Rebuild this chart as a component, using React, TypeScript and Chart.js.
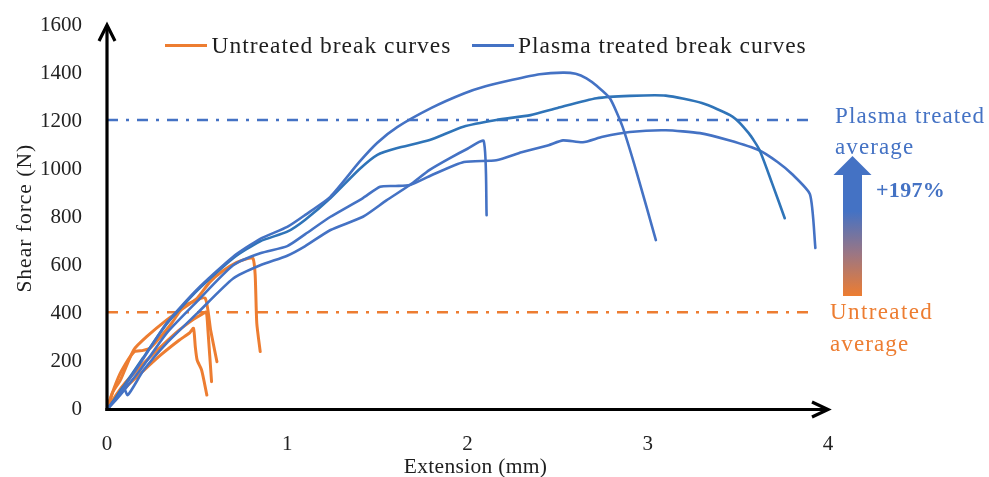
import React, { useEffect, useRef } from 'react';
import { Chart, registerables } from 'chart.js';

Chart.register(...registerables);

// ---- Data ----
const plasmaA_x = [0, 0.05, 0.1, 0.2, 0.33, 0.5, 0.7, 0.85, 1.0, 1.1, 1.24, 1.4, 1.5, 1.61, 1.8, 1.98, 2.1, 2.25, 2.4, 2.53, 2.6, 2.66, 2.72, 2.79, 2.86, 2.94, 3.045];
const plasmaA_y = [0, 45, 100, 210, 359, 500, 636, 710, 760, 810, 886, 1030, 1110, 1175, 1255, 1315, 1345, 1372, 1395, 1402, 1397, 1378, 1345, 1295, 1177, 983, 705];

const plasmaB_x = [0, 0.05, 0.1, 0.2, 0.33, 0.5, 0.7, 0.85, 1.0, 1.1, 1.24, 1.4, 1.5, 1.606, 1.79, 1.977, 2.16, 2.35, 2.5, 2.716, 2.9, 3.1, 3.3, 3.47, 3.56, 3.62, 3.69, 3.76];
const plasmaB_y = [0, 50, 105, 215, 355, 495, 630, 700, 740, 790, 880, 1000, 1060, 1087, 1121, 1177, 1205, 1225, 1255, 1295, 1305, 1306, 1275, 1219, 1150, 1080, 941, 796];

const plasmaC_x = [0, 0.05, 0.1, 0.2, 0.33, 0.5, 0.7, 0.85, 1.0, 1.1, 1.24, 1.42, 1.515, 1.6, 1.68, 1.8, 1.98, 2.16, 2.3, 2.45, 2.53, 2.64, 2.75, 2.9, 3.1, 3.29, 3.45, 3.62, 3.72, 3.8, 3.9, 3.93];
const plasmaC_y = [0, 40, 85, 180, 317, 450, 600, 650, 680, 730, 802, 880, 927, 930, 934, 975, 1030, 1037, 1070, 1100, 1120, 1112, 1135, 1155, 1162, 1150, 1120, 1078, 1030, 980, 895, 672];

const plasmaD_x = [0, 0.05, 0.09, 0.115, 0.2, 0.33, 0.5, 0.7, 0.85, 1.0, 1.1, 1.24, 1.42, 1.55, 1.68, 1.79, 1.9, 2.0, 2.09, 2.106];
const plasmaD_y = [0, 50, 95, 60, 160, 275, 400, 545, 600, 640, 680, 747, 802, 870, 934, 997, 1045, 1085, 1117, 809];

const untreated1_x = [0, 0.03, 0.074, 0.148, 0.22, 0.33, 0.41, 0.5, 0.57, 0.64, 0.72, 0.78, 0.81, 0.822, 0.831, 0.85];
const untreated1_y = [0, 70, 122, 248, 303, 372, 414, 463, 530, 575, 612, 628, 629, 560, 359, 241];

const untreated2_x = [0, 0.04, 0.08, 0.15, 0.2, 0.24, 0.3, 0.36, 0.42, 0.48, 0.545, 0.575, 0.61];
const untreated2_y = [0, 90, 160, 240, 246, 256, 305, 360, 425, 450, 463, 330, 199];

const untreated3_x = [0, 0.05, 0.1, 0.2, 0.3, 0.4, 0.48, 0.53, 0.551, 0.56, 0.58];
const untreated3_y = [0, 60, 110, 190, 262, 330, 375, 398, 405, 330, 116];

const untreated4_x = [0, 0.05, 0.1, 0.2, 0.3, 0.4, 0.46, 0.48, 0.49, 0.5, 0.525, 0.554];
const untreated4_y = [0, 50, 90, 160, 228, 288, 320, 338, 260, 206, 164, 60];

const untreatedAverage = 405;
const plasmaAverage = 1205;
const averageLineX = [0, 3.93];

const xTickValues = [0, 1, 2, 3, 4];
const yTickValues = [0, 200, 400, 600, 800, 1000, 1200, 1400, 1600];

const legendLabels = ['Untreated break curves', 'Plasma treated break curves'];
const xTitle = 'Extension (mm)';
const yTitle = 'Shear force (N)';
const plasmaNote = ['Plasma treated', 'average'];
const untreatedNote = ['Untreated', 'average'];
const increaseLabel = '+197%';

// ---- Styles ----
const ORANGE = '#ED7D31';
const BLUE = '#4472C4';
const BLUE2 = '#2F74B8';
const SERIF = "'Liberation Serif', 'Times New Roman', serif";
const TEXT = '#1e1e1e';

const pts = (xs: number[], ys: number[]) => xs.map((x, i) => ({ x, y: ys[i] }));

function arrowHead(ctx: CanvasRenderingContext2D, tx: number, ty: number, dir: 'up' | 'right') {
  ctx.beginPath();
  if (dir === 'right') {
    ctx.moveTo(tx - 16, ty - 7.5);
    ctx.lineTo(tx, ty);
    ctx.lineTo(tx - 16, ty + 7.5);
  } else {
    ctx.moveTo(tx - 8, ty + 16);
    ctx.lineTo(tx, ty);
    ctx.lineTo(tx + 8, ty + 16);
  }
  ctx.stroke();
}

function spacedText(ctx: CanvasRenderingContext2D, text: string, x: number, y: number, spacing: number) {
  (ctx as any).letterSpacing = spacing + 'px';
  ctx.fillText(text, x, y);
  (ctx as any).letterSpacing = '0px';
}

const decorPlugin = {
  id: 'decor',
  afterDatasetsDraw(chart: any) {
    const ctx: CanvasRenderingContext2D = chart.ctx;
    const xs = chart.scales.x;
    const ys = chart.scales.y;
    const x0 = xs.getPixelForValue(0);
    const x4 = xs.getPixelForValue(4);
    const y0 = ys.getPixelForValue(0);
    const yTop = ys.getPixelForValue(1600);
    ctx.save();
    ctx.strokeStyle = '#000';
    ctx.lineWidth = 3.2;
    ctx.lineJoin = 'miter';
    ctx.beginPath();
    ctx.moveTo(x0 - 1.6, y0);
    ctx.lineTo(x4 - 1, y0);
    ctx.stroke();
    ctx.beginPath();
    ctx.moveTo(x0, y0 + 1.6);
    ctx.lineTo(x0, yTop + 1);
    ctx.stroke();
    arrowHead(ctx, x4, y0, 'right');
    arrowHead(ctx, x0, yTop, 'up');
    ctx.restore();
  },
  afterDraw(chart: any) {
    const ctx: CanvasRenderingContext2D = chart.ctx;
    const area = chart.chartArea;
    const ys = chart.scales.y;
    ctx.save();
    ctx.textBaseline = 'alphabetic';

    // legend
    ctx.lineWidth = 3;
    ctx.font = `23.5px ${SERIF}`;
    ctx.fillStyle = TEXT;
    ctx.strokeStyle = ORANGE;
    ctx.beginPath(); ctx.moveTo(165, 45.5); ctx.lineTo(207, 45.5); ctx.stroke();
    ctx.textAlign = 'left';
    spacedText(ctx, legendLabels[0], 211.5, 52.5, 1.0);
    ctx.strokeStyle = BLUE;
    ctx.beginPath(); ctx.moveTo(472, 45.5); ctx.lineTo(514, 45.5); ctx.stroke();
    spacedText(ctx, legendLabels[1], 518, 52.5, 0.95);

    // axis titles
    ctx.font = `21.5px ${SERIF}`;
    ctx.textAlign = 'center';
    spacedText(ctx, xTitle, (area.left + area.right) / 2 + 8, 473, 0.3);
    ctx.save();
    ctx.translate(31, (area.top + area.bottom) / 2 + 1);
    ctx.rotate(-Math.PI / 2);
    spacedText(ctx, yTitle, 0, 0, 1.0);
    ctx.restore();

    // right-hand notes
    const left = area.right + 7;
    const yPlasma = ys.getPixelForValue(plasmaAverage);
    const yUntr = ys.getPixelForValue(untreatedAverage);
    ctx.textAlign = 'left';
    ctx.font = `23px ${SERIF}`;
    ctx.fillStyle = BLUE;
    spacedText(ctx, plasmaNote[0], left, yPlasma + 3, 1.1);
    spacedText(ctx, plasmaNote[1], left, yPlasma + 34, 1.1);
    ctx.fillStyle = ORANGE;
    spacedText(ctx, untreatedNote[0], left - 5, yUntr + 7, 1.4);
    spacedText(ctx, untreatedNote[1], left - 5, yUntr + 38.5, 1.1);

    // gradient arrow
    const tipY = ys.getPixelForValue(1055);
    const baseY = ys.getPixelForValue(472);
    const headY = tipY + 19;
    const cx = left + 17.5;
    const grad = ctx.createLinearGradient(0, headY, 0, baseY);
    grad.addColorStop(0, BLUE);
    grad.addColorStop(0.3, BLUE);
    grad.addColorStop(0.65, '#9B7684');
    grad.addColorStop(1, ORANGE);
    ctx.fillStyle = grad;
    ctx.beginPath();
    ctx.moveTo(cx, tipY);
    ctx.lineTo(cx + 19, headY);
    ctx.lineTo(cx + 9.5, headY);
    ctx.lineTo(cx + 9.5, baseY);
    ctx.lineTo(cx - 9.5, baseY);
    ctx.lineTo(cx - 9.5, headY);
    ctx.lineTo(cx - 19, headY);
    ctx.closePath();
    ctx.fill();

    ctx.fillStyle = BLUE;
    ctx.font = `bold 22px ${SERIF}`;
    spacedText(ctx, increaseLabel, left + 41, tipY + 41, 0.3);
    ctx.restore();
  },
};

export default function App() {
  const canvasRef = useRef<HTMLCanvasElement | null>(null);

  useEffect(() => {
    const canvas = canvasRef.current;
    if (!canvas) return;
    const curve = (xs: number[], ys: number[], color: string, width: number) => ({
      data: pts(xs, ys),
      borderColor: color,
      backgroundColor: color,
      borderWidth: width,
      pointRadius: 0,
      tension: 0.2,
      fill: false,
      borderJoinStyle: 'round' as const,
      borderCapStyle: 'round' as const,
    });
    const avgLine = (value: number, color: string) => ({
      data: averageLineX.map((x) => ({ x, y: value })),
      borderColor: color,
      backgroundColor: color,
      borderWidth: 2.5,
      borderDash: [11, 8, 3, 8],
      pointRadius: 0,
      tension: 0,
      fill: false,
    });

    const chart = new Chart(canvas, {
      type: 'line',
      data: {
        datasets: [
          curve(plasmaA_x, plasmaA_y, BLUE, 2.6),
          curve(plasmaB_x, plasmaB_y, BLUE2, 2.6),
          curve(plasmaC_x, plasmaC_y, BLUE, 2.6),
          curve(plasmaD_x, plasmaD_y, BLUE, 2.6),
          curve(untreated1_x, untreated1_y, ORANGE, 3),
          curve(untreated2_x, untreated2_y, ORANGE, 3),
          curve(untreated3_x, untreated3_y, ORANGE, 3),
          curve(untreated4_x, untreated4_y, ORANGE, 3),
          avgLine(plasmaAverage, BLUE),
          avgLine(untreatedAverage, ORANGE),
        ],
      },
      options: {
        responsive: false,
        animation: false,
        layout: { padding: { top: 25, right: 161, bottom: 0, left: 0 } },
        plugins: {
          legend: { display: false },
          tooltip: { enabled: false },
          title: { display: false },
        },
        scales: {
          x: {
            type: 'linear',
            min: 0,
            max: 4,
            grid: { display: false, drawTicks: false },
            border: { display: false },
            afterBuildTicks: (s: any) => { s.ticks = xTickValues.map((v) => ({ value: v })); },
            afterFit: (s: any) => {
              s.height = 67.5;
              s.paddingLeft = 0;
              s.paddingRight = 0;
            },
            ticks: {
              padding: 22,
              color: '#222',
              font: { family: SERIF, size: 21 },
              callback: (v: any) => String(v),
            },
          },
          y: {
            type: 'linear',
            min: 0,
            max: 1600,
            grid: { display: false, drawTicks: false },
            border: { display: false },
            afterBuildTicks: (s: any) => { s.ticks = yTickValues.map((v) => ({ value: v })); },
            afterFit: (s: any) => {
              s.width = 107;
              s.paddingTop = 0;
              s.paddingBottom = 0;
            },
            ticks: {
              padding: 25,
              color: '#222',
              font: { family: SERIF, size: 21 },
              callback: (v: any) => String(v),
            },
          },
        },
      },
      plugins: [decorPlugin],
    });
    return () => chart.destroy();
  }, []);

  return (
    <div style={{ position: 'fixed', left: 0, top: 0, width: 989, height: 477, background: '#fff' }}>
      <canvas ref={canvasRef} width={989} height={477} style={{ display: 'block', width: 989, height: 477 }} />
    </div>
  );
}
